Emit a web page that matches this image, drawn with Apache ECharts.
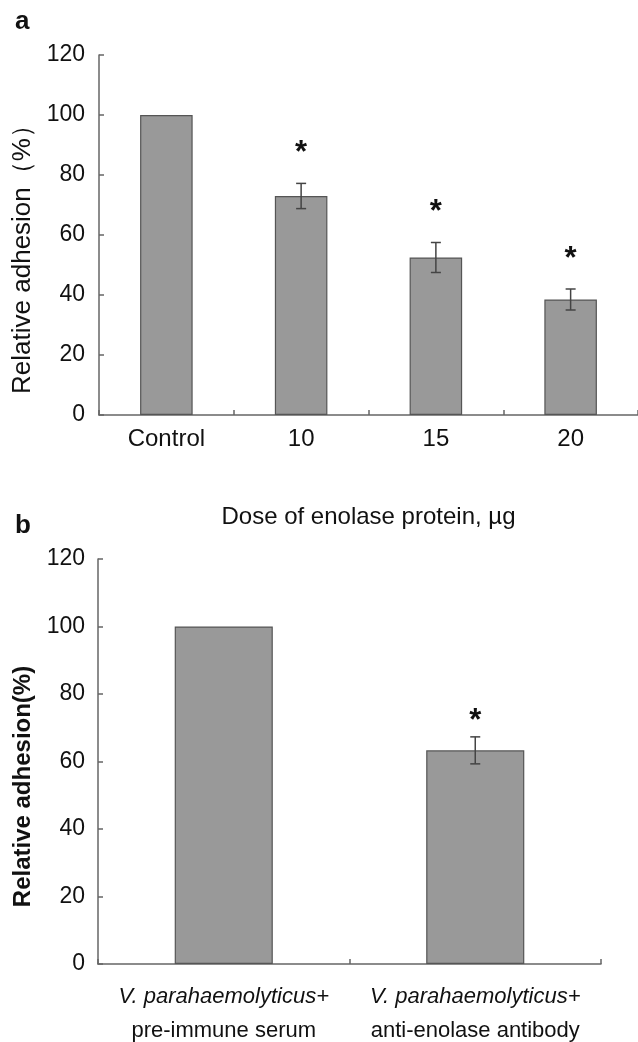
<!DOCTYPE html>
<html>
<head>
<meta charset="utf-8">
<script src="https://cdn.jsdelivr.net/npm/echarts@6/dist/echarts.min.js"></script>
<style>
  html, body { margin: 0; padding: 0; background: #fff; }
  #chart { width: 638px; height: 1042px; }
</style>
</head>
<body>
<div id="chart"></div>
<script>
'use strict';

/* ── Data: panel a ── */
const doseCats  = ['Control', '10', '15', '20'];
const doseMean  = [100, 73, 52.5, 38.5];
const doseErr   = [0, 4.2, 5, 3.5];
const doseSig   = ['', '*', '*', '*'];

/* ── Data: panel b ── */
const serumCats = [
  ['V. parahaemolyticus+', 'pre-immune serum'],
  ['V. parahaemolyticus+', 'anti-enolase antibody']
];
const serumMean = [100, 63.3];
const serumErr  = [0, 4];
const serumSig  = ['', '*'];

const yTicks = { min: 0, max: 120, interval: 20 };

/* ── Style helpers ── */
const FONT = "'Liberation Sans', Arial, sans-serif";
const AXIS_COLOR = '#666';
const BAR_FILL = '#999999';
const BAR_EDGE = '#555';

function axisBase() {
  return {
    axisLine:  { show: true, lineStyle: { color: AXIS_COLOR, width: 1.5 } },
    axisTick:  { show: true, inside: true, length: 5, lineStyle: { color: AXIS_COLOR, width: 1.5 } },
    splitLine: { show: false }
  };
}

function errorSeries(idx, mean, err, sig, gap) {
  return {
    type: 'custom',
    xAxisIndex: idx,
    yAxisIndex: idx,
    z: 5,
    data: mean.map((m, i) => [i, m, err[i], sig[i] ? 1 : 0]),
    encode: { x: 0, y: 1 },
    renderItem: function (params, api) {
      const i = api.value(0);
      const m = api.value(1);
      const e = api.value(2);
      const children = [];
      const hw = 5;
      if (e > 0) {
        const top = api.coord([i, m + e]);
        const bot = api.coord([i, m - e]);
        const ls = { stroke: '#444', lineWidth: 1.5 };
        children.push({ type: 'line', shape: { x1: top[0], y1: top[1], x2: bot[0], y2: bot[1] }, style: ls });
        children.push({ type: 'line', shape: { x1: top[0] - hw, y1: top[1], x2: top[0] + hw, y2: top[1] }, style: ls });
        children.push({ type: 'line', shape: { x1: bot[0] - hw, y1: bot[1], x2: bot[0] + hw, y2: bot[1] }, style: ls });
        if (api.value(3)) {
          children.push({
            type: 'text',
            style: {
              text: '*', x: top[0], y: top[1] - gap,
              align: 'center', verticalAlign: 'middle',
              font: 'bold 31px ' + FONT, fill: '#111'
            }
          });
        }
      }
      return { type: 'group', children: children };
    }
  };
}

const chart = echarts.init(document.getElementById('chart'), null, { renderer: 'canvas' });

const AB = axisBase();

chart.setOption({
  animation: false,
  backgroundColor: '#fff',
  textStyle: { fontFamily: FONT, color: '#111' },
  title: [
    { text: 'a', left: 10, top: 4, textStyle: { fontSize: 26, fontWeight: 'bold', color: '#111', fontFamily: FONT } },
    { text: 'b', left: 10, top: 508, textStyle: { fontSize: 26, fontWeight: 'bold', color: '#111', fontFamily: FONT } }
  ],
  grid: [
    { left: 99, top: 55, width: 539, height: 360 },
    { left: 98, top: 559, width: 503, height: 408 }
  ],
  xAxis: [
    {
      type: 'category', gridIndex: 0, data: doseCats, ...AB,
      axisTick: { ...AB.axisTick, alignWithLabel: false },
      axisLabel: { interval: 0, margin: 12, fontSize: 24, color: '#111', fontFamily: FONT },
      name: 'Dose of enolase protein, µg', nameLocation: 'middle', nameGap: 90,
      nameTextStyle: { fontSize: 24, color: '#111', fontFamily: FONT }
    },
    {
      type: 'category', gridIndex: 1, data: serumCats.map(c => c.join('\n')), ...AB,
      axisTick: { ...AB.axisTick, alignWithLabel: false },
      axisLabel: {
        interval: 0, margin: 16, color: '#111', fontFamily: FONT,
        formatter: v => { const p = v.split('\n'); return '{i|' + p[0] + '}\n{n|' + p[1] + '}'; },
        rich: {
          i: { fontSize: 22, fontStyle: 'italic', lineHeight: 34, fontFamily: FONT, color: '#111' },
          n: { fontSize: 22, lineHeight: 34, fontFamily: FONT, color: '#111' }
        }
      }
    }
  ],
  yAxis: [
    {
      type: 'value', gridIndex: 0, ...yTicks, ...AB,
      axisLabel: { margin: 14, fontSize: 23, color: '#111', fontFamily: FONT },
      name: 'Relative adhesion（%）', nameLocation: 'middle', nameGap: 57,
      nameTextStyle: { fontSize: 26, color: '#111', fontFamily: FONT, padding: [0, 36, 0, 0] }
    },
    {
      type: 'value', gridIndex: 1, ...yTicks, ...AB,
      axisLabel: { margin: 13, fontSize: 23, color: '#111', fontFamily: FONT },
      name: 'Relative adhesion(%)', nameLocation: 'middle', nameGap: 63,
      nameTextStyle: { fontSize: 24, fontWeight: 'bold', color: '#111', fontFamily: FONT, padding: [0, 50, 0, 0] }
    }
  ],
  series: [
    {
      type: 'bar', xAxisIndex: 0, yAxisIndex: 0, data: doseMean, barWidth: '39%',
      itemStyle: { color: BAR_FILL, borderColor: BAR_EDGE, borderWidth: 1.2 }
    },
    errorSeries(0, doseMean, doseErr, doseSig, 30),
    {
      type: 'bar', xAxisIndex: 1, yAxisIndex: 1, data: serumMean, barWidth: '39%',
      itemStyle: { color: BAR_FILL, borderColor: BAR_EDGE, borderWidth: 1.2 }
    },
    errorSeries(1, serumMean, serumErr, serumSig, 15)
  ]
});

window.addEventListener('resize', () => chart.resize());
</script>
</body>
</html>
